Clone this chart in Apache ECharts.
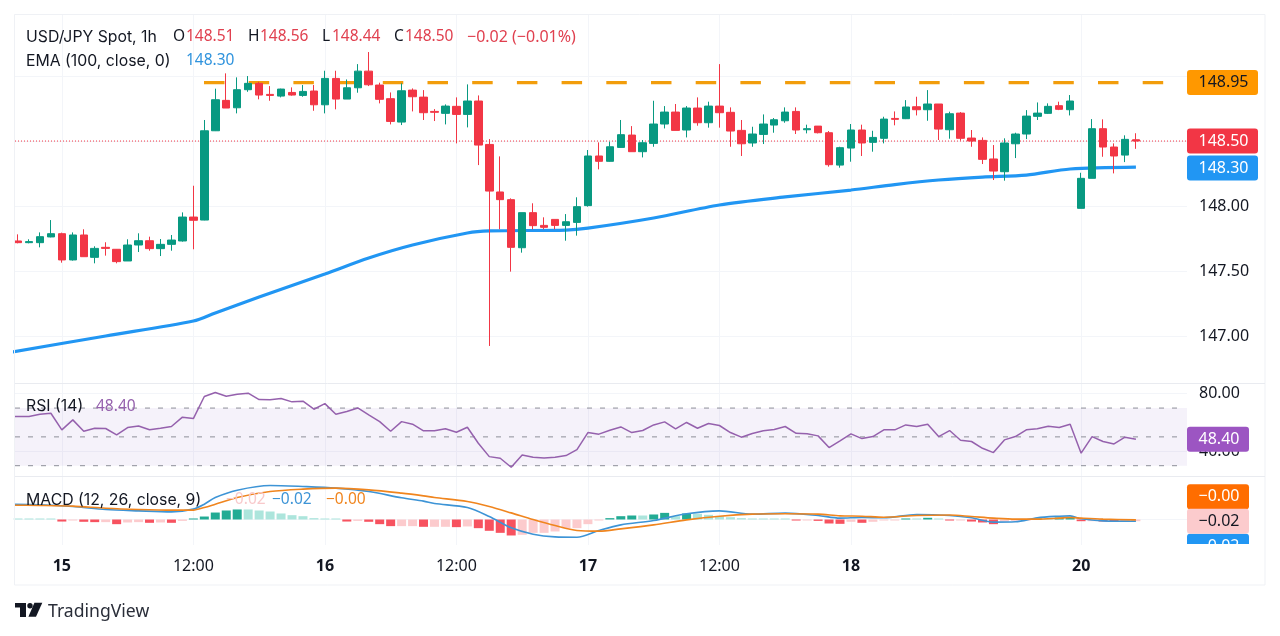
<!DOCTYPE html>
<html>
<head>
<meta charset="utf-8">
<title>USD/JPY Spot, 1h</title>
<script src="https://cdn.jsdelivr.net/npm/echarts@6/dist/echarts.min.js"></script>
<style>
html, body { margin: 0; padding: 0; background: #fff; }
#main { width: 1280px; height: 636px; }
</style>
</head>
<body>
<div id="main"></div>
<script>
// candles, hourly bars
var opens = [147.731,147.718,147.718,147.762,147.787,147.585,147.777,147.605,147.682,147.667,147.577,147.700,147.733,147.672,147.705,147.731,147.915,147.892,148.579,148.813,148.756,148.895,148.944,148.859,148.846,148.874,148.851,148.885,148.779,148.982,148.823,148.910,149.038,148.931,148.826,148.646,148.892,148.838,148.728,148.713,148.767,148.705,148.808,148.474,148.108,148.049,147.679,147.949,147.851,147.897,147.851,147.874,148.003,148.385,148.344,148.451,148.546,148.418,148.482,148.631,148.723,148.585,148.754,148.641,148.769,148.721,148.582,148.485,148.551,148.623,148.656,148.728,148.587,148.615,148.564,148.315,148.446,148.585,148.490,148.521,148.674,148.672,148.764,148.741,148.785,148.587,148.715,148.523,148.505,148.362,148.264,148.479,148.554,148.690,148.713,148.772,148.741,147.982,148.213,148.595,148.454,148.392,148.51];
var closes = [147.718,147.726,147.764,147.787,147.585,147.777,147.610,147.674,147.674,147.572,147.700,147.733,147.672,147.705,147.738,147.915,147.890,148.579,148.818,148.754,148.895,148.944,148.854,148.851,148.900,148.854,148.882,148.779,148.982,148.823,148.910,149.038,148.933,148.821,148.651,148.887,148.841,148.718,148.721,148.769,148.705,148.808,148.469,148.115,148.049,147.682,147.949,147.849,147.836,147.851,147.879,147.995,148.385,148.344,148.456,148.549,148.418,148.487,148.631,148.723,148.582,148.754,148.641,148.769,148.718,148.577,148.479,148.554,148.631,148.664,148.723,148.585,148.595,148.564,148.318,148.449,148.585,148.485,148.528,148.669,148.667,148.762,148.741,148.785,148.592,148.710,148.521,148.500,148.359,148.269,148.485,148.554,148.692,148.715,148.767,148.744,148.808,148.213,148.595,148.454,148.385,148.513,148.50];
var highs = [147.782,147.744,147.797,147.892,147.795,147.797,147.821,147.690,147.721,147.669,147.744,147.790,147.764,147.746,147.777,147.951,148.156,148.662,148.903,149.021,148.990,149.000,148.956,148.923,148.903,148.913,148.931,148.931,149.041,149.041,148.974,149.092,149.185,148.949,148.874,148.944,148.905,148.892,148.746,148.782,148.836,148.936,148.851,148.515,148.382,148.059,147.949,148.021,147.913,147.897,147.938,148.067,148.431,148.490,148.495,148.662,148.615,148.508,148.810,148.769,148.785,148.769,148.836,148.803,149.092,148.759,148.662,148.610,148.705,148.677,148.759,148.759,148.626,148.615,148.577,148.456,148.631,148.626,148.579,148.687,148.728,148.815,148.841,148.892,148.785,148.726,148.723,148.585,148.528,148.469,148.521,148.564,148.738,148.797,148.790,148.803,148.854,148.256,148.669,148.667,148.482,148.544,148.56];
var lows = [147.713,147.713,147.682,147.759,147.564,147.580,147.610,147.559,147.618,147.559,147.577,147.646,147.656,147.615,147.656,147.726,147.667,147.890,148.577,148.754,148.713,148.879,148.821,148.810,148.836,148.849,148.841,148.733,148.713,148.744,148.823,148.872,148.923,148.790,148.628,148.623,148.728,148.662,148.654,148.628,148.482,148.605,148.315,146.923,147.821,147.495,147.641,147.821,147.821,147.821,147.733,147.772,147.995,148.282,148.341,148.449,148.418,148.374,148.456,148.597,148.582,148.528,148.618,148.603,148.603,148.456,148.385,148.456,148.477,148.564,148.641,148.554,148.559,148.559,148.303,148.295,148.341,148.385,148.418,148.482,148.621,148.669,148.697,148.656,148.508,148.518,148.503,148.456,148.323,148.200,148.195,148.369,148.515,148.662,148.708,148.738,148.697,147.982,148.213,148.379,148.251,148.338,148.44];

// EMA, read at these bar numbers
var emaBars = [-1,8,16,18,22,28,32,36,41,43,50,52,58,64,70,76,80,84,88,92,96,102];
var emaValues = [146.87,147.00,147.115,147.177,147.30,147.477,147.60,147.70,147.792,147.808,147.815,147.83,147.908,148.008,148.07,148.123,148.165,148.20,148.223,148.238,148.285,148.30];

// RSI, first value sits just left of the first bar
var rsiValues = [64.1,64.1,64.1,65.7,66.4,54.9,61.8,53.9,56.0,55.8,51.4,56.5,57.6,54.9,56.0,57.2,63.7,62.7,78.0,80.8,78.2,79.6,80.3,75.9,75.7,76.6,74.3,74.8,69.2,73.1,65.7,67.6,70.1,65.3,60.6,53.9,60.6,58.8,54.2,54.2,55.6,53.2,56.7,45.6,36.3,35.2,28.9,37.5,35.9,35.4,35.9,37.0,41.2,53.0,51.9,54.6,56.9,53.0,54.4,58.3,60.4,55.6,60.0,56.0,59.3,57.9,53.0,49.8,52.3,54.2,55.1,57.2,52.5,52.1,50.7,42.6,47.2,52.1,48.8,50.2,54.9,54.9,58.3,57.2,58.8,50.2,54.4,47.7,46.8,42.1,39.1,47.9,50.2,54.9,55.6,57.4,56.5,58.8,38.7,50.2,46.8,45.1,49.8,48.4];

// MACD
var macdHist = [0.012,0.012,0.012,0.012,-0.024,-0.012,-0.027,-0.031,-0.031,-0.055,-0.035,-0.031,-0.039,-0.035,-0.039,-0.016,0.012,0.035,0.082,0.106,0.118,0.118,0.106,0.094,0.071,0.051,0.039,0.016,0.012,0.012,-0.024,-0.016,-0.027,-0.055,-0.078,-0.078,-0.078,-0.086,-0.086,-0.086,-0.090,-0.082,-0.102,-0.133,-0.157,-0.188,-0.180,-0.157,-0.157,-0.141,-0.102,-0.102,-0.055,-0.012,0.016,0.039,0.047,0.047,0.059,0.078,0.039,0.071,0.067,0.055,0.039,0.027,0.016,0.012,0.012,0.012,0.012,-0.012,-0.012,-0.016,-0.047,-0.051,-0.027,-0.039,-0.027,-0.012,-0.012,0.012,0.012,0.020,0.012,-0.012,-0.012,-0.024,-0.035,-0.055,-0.024,-0.016,-0.012,0.012,0.012,0.024,0.031,-0.020,-0.020,-0.024,-0.027,-0.027,-0.020];
var macdBars = [-1,2,5,8,11,14,16,17,18,20,23,26,29,32,35,37,38,41,43,45,47,49,51,53,55,58,61,64,67,70,73,75,77,79,82,85,87,89,91,93,95,96,97,99,102];
var macdLine = [0.180,0.173,0.153,0.118,0.102,0.090,0.122,0.180,0.259,0.345,0.400,0.388,0.369,0.329,0.255,0.216,0.188,0.141,0.035,-0.098,-0.173,-0.204,-0.208,-0.129,-0.063,-0.012,0.067,0.102,0.063,0.075,0.047,0.016,0.024,0.020,0.059,0.047,0.020,-0.031,-0.027,0.020,0.039,0.043,0.008,-0.016,-0.020];
var signalLine = [0.169,0.165,0.157,0.133,0.118,0.110,0.110,0.141,0.180,0.259,0.329,0.357,0.369,0.349,0.310,0.278,0.259,0.212,0.153,0.078,0,-0.071,-0.129,-0.137,-0.110,-0.063,-0.004,0.039,0.063,0.067,0.063,0.043,0.039,0.027,0.047,0.053,0.035,0.016,0.004,0.004,0.016,0.024,0.016,0.004,-0.004];

// axis ticks
var timeTickBars = [4,16,28,40,52,64,76,97];
var timeTickLabels = ['15','12:00','16','12:00','17','12:00','18','20'];
var priceGridLines = [147,147.5,148,148.5,149];
var priceLabels = [147,147.5,148];
var rsiLabels = [40,80];
var rsiLevels = [30,50,70];

// last values
var resistance = 148.95;
var lastPrice = 148.50;
var lastEma = 148.30;
var lastRsi = 48.40;

var fontName = '"Noto Sans", sans-serif';
var wideFont = 'Inter, sans-serif';
var upColor = '#089981';
var downColor = '#f23645';
var blue = '#2196f3';
var orange = '#f0851e';
var purple = '#9561ad';
var gridColor = '#f3f5f9';
var xMin = -0.274;
var xMax = 106.66;

function pair(bars, values) {
    return values.map(function (v, i) { return [bars[i], v]; });
}

function tagShape(w) {
    var h = 25, r = 3;
    return 'path://M' + r + ',0H' + (w - r) + 'a3,3 0 0 1 3,3V' + (h - r) + 'a3,3 0 0 1 -3,3H' + r + 'a3,3 0 0 1 -3,-3V' + r + 'a3,3 0 0 1 3,-3Z';
}

function tag(y, text, bg, fg, w, dy) {
    return {
        coord: [xMax, y],
        symbol: tagShape(w),
        symbolKeepAspect: false,
        symbolSize: [w, 25],
        symbolOffset: [w / 2, dy],
        itemStyle: { color: bg },
        label: { show: true, position: 'inside', formatter: text, color: fg, fontSize: 16, fontFamily: fontName, padding: [2, 0, 0, 2] }
    };
}

function timeAxis(idx, showLabels) {
    return {
        type: 'value', gridIndex: idx, min: xMin, max: xMax,
        axisLine: { show: false },
        axisTick: { show: false, customValues: timeTickBars },
        splitLine: { show: true, lineStyle: { color: gridColor, width: 1 } },
        axisLabel: {
            show: showLabels,
            customValues: timeTickBars,
            margin: 13,
            hideOverlap: false,
            showMinLabel: true,
            showMaxLabel: true,
            formatter: function (v) {
                var t = timeTickLabels[timeTickBars.indexOf(v)];
                return t.length < 3 ? '{b|' + t + '}' : t;
            },
            color: '#131722', fontSize: 16, fontFamily: fontName,
            rich: { b: { fontWeight: 'bold', fontSize: 16, color: '#131722', fontFamily: fontName } }
        }
    };
}

function valueAxis(idx, min, max, lines, labels, digits) {
    return {
        type: 'value', gridIndex: idx, position: 'right', min: min, max: max,
        axisLine: { show: false },
        axisTick: { show: false, customValues: lines },
        splitLine: { show: true, lineStyle: { color: gridColor, width: 1 } },
        axisLabel: {
            show: labels.length > 0,
            customValues: labels,
            margin: 12,
            padding: [2, 0, 0, 0],
            color: '#131722', fontSize: 16, fontFamily: fontName,
            formatter: function (v) { return v.toFixed(digits); }
        }
    };
}

function txt(x, y, s, color, size, font) {
    return {
        type: 'text', z: 100, x: x, y: y, silent: true,
        style: { text: s, fill: color, font: (size || 15.5) + 'px ' + (font || fontName), verticalAlign: 'middle' }
    };
}

var candleData = opens.map(function (o, i) {
    return [i, o, closes[i], lows[i], highs[i]];
});

var histData = macdHist.map(function (v, i) {
    var prev = i > 0 ? macdHist[i - 1] : v;
    var c;
    if (v >= 0) c = v > prev ? '#22ab94' : '#ace5dc';
    else c = v < prev ? '#f7525f' : '#fccbcd';
    return { value: [i, v], itemStyle: { color: c } };
});

var rsiLevelSeries = rsiLevels.map(function (lvl) {
    return {
        type: 'line', xAxisIndex: 1, yAxisIndex: 1, z: 1, silent: true, symbol: 'none',
        data: [[xMin, lvl], [xMax - 0.35, lvl]],
        lineStyle: { color: '#8d8f98', width: 1, type: [5, 8] }
    };
});

var option = {
    animation: false,
    backgroundColor: '#fff',
    textStyle: { fontFamily: fontName },
    grid: [
        { left: 15, top: 15, width: 1172, height: 368 },
        { left: 15, top: 384, width: 1172, height: 92 },
        { left: 15, top: 477, width: 1172, height: 68 }
    ],
    xAxis: [timeAxis(0, false), timeAxis(1, false), timeAxis(2, true)],
    yAxis: [
        valueAxis(0, 146.638, 149.470, priceGridLines, priceLabels, 2),
        valueAxis(1, 22.85, 86.7, rsiLabels, rsiLabels, 2),
        valueAxis(2, -0.3, 0.5, [0], [], 2)
    ],
    series: [
        {
            name: 'Resistance', type: 'line', z: 1, silent: true, symbol: 'none',
            data: [[16.97, resistance], [xMax, resistance]],
            lineStyle: { color: '#f29d0b', width: 3.2, type: [20.5, 24.2] },
            markPoint: { silent: true, data: [tag(resistance, '148.95', '#ff9800', '#131722', 71, 0)] }
        },
        {
            name: 'Last', type: 'line', z: 1, silent: true, symbol: 'none',
            data: [[xMin, lastPrice], [xMax, lastPrice]],
            lineStyle: { color: downColor, width: 1, type: [1, 2] },
            markPoint: { silent: true, data: [tag(lastPrice, '148.50', downColor, '#fff', 71, 0)] }
        },
        {
            name: 'EMA', type: 'line', z: 2, silent: true, symbol: 'none', smooth: 0.3,
            data: pair(emaBars, emaValues),
            lineStyle: { color: blue, width: 3.2 },
            markPoint: { silent: true, data: [tag(lastEma, '148.30', blue, '#fff', 71, 1)] }
        },
        {
            name: 'USD/JPY', type: 'candlestick', z: 3, silent: true,
            data: candleData,
            encode: { x: 0, y: [1, 2, 3, 4] },
            barWidth: 8,
            itemStyle: { color: upColor, color0: downColor, borderColor: upColor, borderColor0: downColor, borderWidth: 1 }
        }
    ].concat(rsiLevelSeries).concat([
        {
            name: 'RSI', type: 'line', xAxisIndex: 1, yAxisIndex: 1, z: 2, silent: true, symbol: 'none',
            data: rsiValues.map(function (v, i) { return [i - 1, v]; }),
            lineStyle: { color: purple, width: 1.5 },
            markArea: {
                silent: true,
                itemStyle: { color: 'rgba(126,87,194,0.08)' },
                data: [[{ coord: [xMin, rsiLevels[0]] }, { coord: [xMax, rsiLevels[2]] }]]
            },
            markPoint: { silent: true, data: [tag(lastRsi, '48.40', '#9c55c2', '#fff', 62, 0)] }
        },
        {
            name: 'Histogram', type: 'bar', xAxisIndex: 2, yAxisIndex: 2, z: 1, silent: true,
            barWidth: 9,
            data: histData
        },
        {
            name: 'MACD', type: 'line', xAxisIndex: 2, yAxisIndex: 2, z: 2, silent: true, symbol: 'none', smooth: 0.3,
            data: pair(macdBars, macdLine),
            lineStyle: { color: '#3d94d6', width: 1.6 },
            markPoint: { silent: true, data: [tag(-0.02, '\u22120.02', blue, '#fff', 62, 25)] }
        },
        {
            name: 'Signal', type: 'line', xAxisIndex: 2, yAxisIndex: 2, z: 2, silent: true, symbol: 'none', smooth: 0.3,
            data: pair(macdBars, signalLine),
            lineStyle: { color: orange, width: 1.6 },
            markPoint: {
                silent: true,
                data: [
                    tag(-0.002, '\u22120.00', '#ff6d00', '#fff', 62, -23),
                    tag(-0.02, '\u22120.02', '#fccbcd', '#131722', 62, 0)
                ]
            }
        }
    ]),
    graphic: [
        // clips the lowest MACD tag at the pane bottom
        { type: 'rect', z: 90, silent: true, shape: { x: 1187, y: 544, width: 76, height: 40 }, style: { fill: '#fff' } },
        { type: 'rect', z: 91, silent: true, shape: { x: 14.5, y: 14.5, width: 1250.5, height: 570.5 }, style: { fill: 'none', stroke: '#eff1f5', lineWidth: 1 } },
        { type: 'line', z: 91, silent: true, shape: { x1: 15, y1: 383.5, x2: 1265, y2: 383.5 }, style: { stroke: '#e9ebf0', lineWidth: 1 } },
        { type: 'line', z: 91, silent: true, shape: { x1: 15, y1: 476.5, x2: 1265, y2: 476.5 }, style: { stroke: '#e9ebf0', lineWidth: 1 } },

        txt(26, 37, 'USD/JPY Spot, 1h', '#131722', 15.8, wideFont),
        txt(173, 37, 'O', '#131722'),
        txt(186, 37, '148.51', '#e0404f'),
        txt(248, 37, 'H', '#131722'),
        txt(260, 37, '148.56', '#e0404f'),
        txt(322, 37, 'L', '#131722'),
        txt(332, 37, '148.44', '#e0404f'),
        txt(394, 37, 'C', '#131722'),
        txt(405, 37, '148.50', '#e0404f'),
        txt(467, 37, '\u22120.02 (\u22120.01%)', '#e0404f', 16),
        txt(26, 61, 'EMA (100, close, 0)', '#131722', 15.8, wideFont),
        txt(186, 61, '148.30', '#2f93dd'),
        txt(26, 406.5, 'RSI (14)', '#131722', 15.8, wideFont),
        txt(96, 406.5, '48.40', purple),
        txt(26, 500, 'MACD (12, 26, close, 9)', '#131722', 15.8, wideFont),
        txt(226, 500, '\u22120.02', '#f8c9cb'),
        txt(272, 500, '\u22120.02', '#3d94d6'),
        txt(326, 500, '\u22120.00', orange),

        // logo
        { type: 'rect', z: 100, silent: true, shape: { x: 15, y: 603, width: 11, height: 4.5 }, style: { fill: '#131722' } },
        { type: 'rect', z: 100, silent: true, shape: { x: 20, y: 603, width: 6, height: 14 }, style: { fill: '#131722' } },
        { type: 'circle', z: 100, silent: true, shape: { cx: 30, cy: 605.8, r: 2.7 }, style: { fill: '#131722' } },
        { type: 'polygon', z: 100, silent: true, shape: { points: [[42.3, 602.8], [36, 616.8], [28.4, 616.8], [34.4, 602.8]] }, style: { fill: '#131722' } },
        txt(48, 611.5, 'TradingView', '#2a2e39', 17.6)
    ]
};

var myChart = echarts.init(document.getElementById('main'));
myChart.setOption(option);
</script>
</body>
</html>
